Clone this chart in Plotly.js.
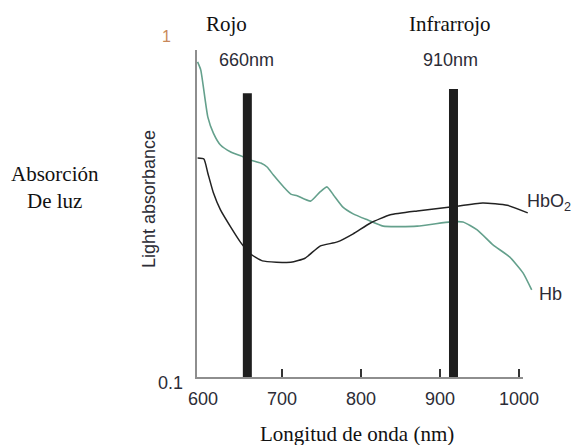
<!DOCTYPE html>
<html>
<head>
<meta charset="utf-8">
<script src="https://cdn.plot.ly/plotly-3.0.1.min.js"></script>
<style>html,body{margin:0;padding:0;background:#fff;}#chart{width:577px;height:445px;}</style>
</head>
<body>
<div id="chart"></div>
<script>
// Hb (deoxyhemoglobin) absorbance curve
var hbWavelength = [593, 597, 606, 613, 622, 635, 651, 660, 673, 681, 689, 702, 711, 719, 736, 748, 757, 765, 777, 790, 808, 828, 871, 913, 929, 947, 967, 988, 1005, 1016];
var hbAbsorbance = [0.84, 0.796, 0.579, 0.52, 0.48, 0.458, 0.443, 0.434, 0.425, 0.414, 0.392, 0.362, 0.345, 0.341, 0.329, 0.35, 0.362, 0.343, 0.316, 0.302, 0.29, 0.278, 0.278, 0.286, 0.286, 0.271, 0.245, 0.226, 0.203, 0.181];
// HbO2 (oxyhemoglobin) absorbance curve
var hbo2Wavelength = [593, 601, 606, 613, 622, 635, 647, 660, 675, 711, 729, 748, 770, 790, 812, 837, 871, 913, 954, 985, 1011];
var hbo2Absorbance = [0.44, 0.437, 0.397, 0.348, 0.31, 0.276, 0.25, 0.2305, 0.22, 0.218, 0.224, 0.243, 0.25, 0.264, 0.284, 0.3, 0.308, 0.316, 0.325, 0.32, 0.304];
// measurement bands (red / infrared)
var bandWavelength = [656, 917];
var bandTop = [0.68, 0.70];
var bandLabels = ["660nm", "910nm"];
var bandNames = ["Rojo", "Infrarrojo"];
// axes
var xTickVals = [600, 700, 800, 900, 1000];
var xTickText = ["600", "700", "800", "900", "1000"];
var xMarkVals = [700, 800, 900, 1000];
var yTickVals = [0.1];
var yTickText = ["0.1"];

var SANS = "Liberation Sans, Arial, sans-serif";
var SERIF = "Liberation Serif, Times New Roman, serif";
var TXT = "#2c2c36";

// plot area geometry (pixels)
var PL = 196, PR = 535, PB = 378, PT = 36, W = 577, H = 445;
var AXIS_END = 523; // x-axis line ends here
var AXIS_TOP = 50;  // y-axis line starts here

var traces = [];
for (var i = 0; i < bandWavelength.length; i++) {
  traces.push({
    type: "scatter", mode: "lines", xaxis: "x2", yaxis: "y",
    x: [bandWavelength[i], bandWavelength[i]],
    y: [0.1, bandTop[i]],
    line: {color: "#1e1e1e", width: 9},
    hoverinfo: "skip", showlegend: false
  });
}
traces.push({
  type: "scatter", mode: "lines", x: hbWavelength, y: hbAbsorbance,
  line: {color: "#64a08c", width: 1.6, shape: "spline", smoothing: 0.5},
  showlegend: false, name: "Hb"
});
traces.push({
  type: "scatter", mode: "lines", x: hbo2Wavelength, y: hbo2Absorbance,
  line: {color: "#222222", width: 1.5, shape: "spline", smoothing: 0.5},
  showlegend: false, name: "HbO2"
});

var ann = [];
function pxAnn(text, px, py, font, extra) {
  var a = {text: text, xref: "paper", yref: "paper",
    x: (px - PL) / (PR - PL), y: (PB - py) / (PB - PT),
    xanchor: "center", yanchor: "middle", showarrow: false, font: font};
  for (var k in extra) a[k] = extra[k];
  return a;
}
var serifFont = {family: SERIF, size: 21, color: "#111"};
var sansFont = {family: SANS, size: 18, color: TXT};
ann.push(pxAnn(bandNames[0], 226, 24, serifFont));
ann.push(pxAnn(bandNames[1], 450, 24, serifFont));
ann.push(pxAnn(bandLabels[0], 246, 60, sansFont));
ann.push(pxAnn(bandLabels[1], 450, 60, sansFont));
ann.push(pxAnn("1", 166, 36, {family: SANS, size: 16, color: "#c8885a"}));
ann.push(pxAnn("HbO<sub>2</sub>", 525, 202, sansFont, {xanchor: "left"}));
ann.push(pxAnn("Hb", 537, 294, sansFont, {xanchor: "left"}));
ann.push(pxAnn("Light absorbance", 149, 199, sansFont, {textangle: -90}));
ann.push(pxAnn("Absorción<br>De luz", 55, 187, serifFont));
ann.push(pxAnn("Longitud de onda (nm)", 357, 434, serifFont));

var xRange = [591, 591 + (1005 - 591) * (PR - PL) / (AXIS_END - PL)];

var layout = {
  width: W, height: H,
  margin: {l: PL, r: W - PR, t: PT, b: H - PB},
  paper_bgcolor: "#fff", plot_bgcolor: "#fff",
  showlegend: false,
  xaxis: {
    range: xRange, showgrid: false, zeroline: false, showline: false,
    tickmode: "array", tickvals: xTickVals, ticktext: xTickText, ticks: "",
    ticklabelstandoff: 8,
    tickfont: {family: SANS, size: 18, color: TXT}
  },
  xaxis2: {
    overlaying: "x", anchor: "y", side: "bottom",
    range: xRange, showgrid: false, zeroline: false, showline: false,
    tickmode: "array", tickvals: xMarkVals, ticks: "inside", ticklen: 9,
    tickwidth: 1.5, tickcolor: "#333", showticklabels: false
  },
  yaxis: {
    type: "log", range: [-1, 0], showgrid: false, zeroline: false, showline: false,
    tickmode: "array", tickvals: yTickVals, ticktext: yTickText, ticks: "",
    ticklabelstandoff: 12, ticklabelshift: 5,
    tickfont: {family: SANS, size: 18, color: TXT}
  },
  shapes: [
    {type: "line", xref: "paper", yref: "paper", x0: 0, x1: 0, y0: 0, y1: (PB - AXIS_TOP) / (PB - PT),
     line: {color: "#8e8e8e", width: 2}},
    {type: "line", xref: "paper", yref: "paper", x0: -0.003, x1: (AXIS_END - PL) / (PR - PL), y0: 0, y1: 0,
     line: {color: "#8e8e8e", width: 2}}
  ],
  annotations: ann
};

Plotly.newPlot("chart", traces, layout, {displayModeBar: false, staticPlot: true});
</script>
</body>
</html>
